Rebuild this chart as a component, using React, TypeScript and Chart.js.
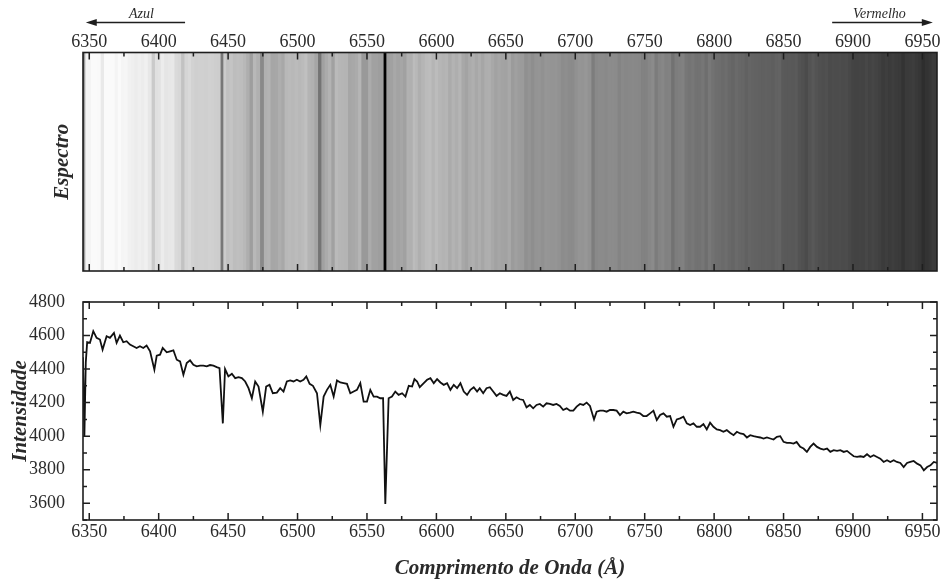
import React, { useEffect, useRef } from 'react';
import { Chart, registerables } from 'chart.js';

Chart.register(...registerables);

// ---------- data ----------
const wavelengths = [
  6345.5, 6346.5, 6347.5, 6348.5, 6350.5, 6352.9, 6355.3, 6357.7, 6359.6, 6362.5,
  6364.9, 6367.8, 6369.7, 6372.1, 6374.5, 6376.9, 6379.3, 6381.7, 6384.1, 6386.5,
  6388.9, 6391.3, 6393.8, 6396.9, 6398.6, 6401.0, 6402.9, 6405.8, 6408.2, 6410.6,
  6413.0, 6415.4, 6417.8, 6420.2, 6422.6, 6425.0, 6427.4, 6429.8, 6432.2, 6434.6,
  6437.0, 6439.4, 6441.8, 6443.8, 6446.2, 6447.8, 6450.2, 6452.7, 6455.1, 6457.5,
  6459.9, 6462.3, 6464.7, 6467.1, 6469.5, 6471.9, 6475.0, 6477.4, 6479.8, 6482.2,
  6485.1, 6487.5, 6489.9, 6492.3, 6494.7, 6497.1, 6499.5, 6501.9, 6504.3, 6506.3,
  6508.7, 6511.1, 6514.0, 6516.4, 6518.8, 6521.2, 6523.6, 6526.0, 6528.4, 6530.8,
  6533.2, 6535.6, 6538.0, 6540.4, 6542.8, 6545.2, 6547.6, 6550.0, 6552.4, 6554.8,
  6557.2, 6559.6, 6561.6, 6563.2, 6565.6, 6568.0, 6570.4, 6572.8, 6575.3, 6577.7,
  6580.1, 6582.5, 6584.2, 6586.1, 6588.0, 6590.9, 6593.3, 6595.7, 6598.1, 6600.5,
  6602.9, 6605.3, 6607.7, 6610.1, 6612.5, 6614.9, 6617.3, 6619.7, 6622.1, 6624.5,
  6626.9, 6629.3, 6631.2, 6633.7, 6636.1, 6638.5, 6640.9, 6643.3, 6645.7, 6648.1,
  6650.5, 6652.9, 6655.3, 6657.7, 6660.1, 6662.5, 6664.9, 6667.3, 6669.7, 6672.1,
  6674.5, 6676.9, 6679.3, 6681.7, 6684.1, 6686.5, 6688.9, 6691.3, 6693.8, 6696.2,
  6698.6, 6701.0, 6703.4, 6705.8, 6708.2, 6710.6, 6713.5, 6715.4, 6717.8, 6720.2,
  6722.6, 6725.0, 6727.4, 6729.8, 6732.2, 6734.6, 6737.0, 6739.4, 6741.8, 6744.2,
  6746.6, 6749.0, 6751.4, 6753.9, 6756.3, 6758.7, 6761.1, 6763.5, 6765.9, 6768.3,
  6770.7, 6773.1, 6775.5, 6777.9, 6780.3, 6782.7, 6785.1, 6787.5, 6789.9, 6792.3,
  6794.7, 6797.1, 6799.5, 6801.9, 6804.3, 6806.7, 6809.1, 6811.4, 6814.0, 6816.4,
  6818.8, 6821.2, 6823.6, 6826.0, 6828.4, 6830.8, 6833.2, 6835.6, 6838.0, 6840.4,
  6842.8, 6845.2, 6847.6, 6850.0, 6852.4, 6854.8, 6857.2, 6859.4, 6862.0, 6864.4,
  6866.8, 6869.2, 6871.6, 6874.1, 6876.5, 6878.9, 6881.3, 6883.7, 6886.1, 6888.5,
  6890.9, 6893.3, 6895.7, 6898.1, 6900.5, 6902.9, 6905.3, 6907.7, 6910.1, 6912.5,
  6914.9, 6917.3, 6919.7, 6922.1, 6924.5, 6926.9, 6929.3, 6931.6, 6934.1, 6936.5,
  6938.9, 6941.3, 6943.7, 6946.2, 6948.6, 6951.0, 6953.4, 6955.8, 6958.2, 6960.6,
];

const intensities = [
  4470, 4000, 4440, 4560, 4556, 4626, 4586, 4576, 4516, 4596,
  4586, 4616, 4556, 4600, 4560, 4566, 4546, 4536, 4526, 4536,
  4526, 4540, 4506, 4396, 4480, 4486, 4526, 4500, 4506, 4512,
  4456, 4446, 4366, 4436, 4452, 4426, 4416, 4420, 4420, 4416,
  4424, 4420, 4412, 4406, 4076, 4400, 4356, 4372, 4346, 4352,
  4346, 4326, 4286, 4226, 4326, 4296, 4146, 4296, 4306, 4256,
  4260, 4286, 4266, 4326, 4332, 4326, 4336, 4326, 4336, 4356,
  4312, 4300, 4256, 4066, 4236, 4276, 4306, 4236, 4332, 4320,
  4316, 4312, 4256, 4266, 4276, 4316, 4206, 4206, 4276, 4236,
  4236, 4226, 4226, 3596, 4226, 4236, 4266, 4246, 4256, 4236,
  4300, 4296, 4340, 4326, 4292, 4316, 4336, 4346, 4316, 4340,
  4320, 4306, 4316, 4276, 4306, 4286, 4316, 4266, 4246, 4276,
  4292, 4266, 4286, 4256, 4286, 4292, 4266, 4240, 4256, 4246,
  4240, 4266, 4216, 4232, 4220, 4216, 4172, 4186, 4166, 4186,
  4192, 4176, 4196, 4192, 4186, 4192, 4180, 4156, 4166, 4152,
  4152, 4176, 4192, 4186, 4200, 4180, 4100, 4146, 4152, 4152,
  4146, 4156, 4156, 4152, 4126, 4146, 4136, 4140, 4146, 4140,
  4136, 4120, 4120, 4136, 4152, 4096, 4126, 4136, 4116, 4120,
  4056, 4100, 4106, 4116, 4076, 4066, 4076, 4056, 4056, 4072,
  4040, 4080, 4056, 4040, 4036, 4026, 4036, 4020, 4006, 4026,
  4016, 4012, 3992, 4006, 4000, 3996, 3992, 3986, 3992, 3986,
  3980, 3996, 4000, 3966, 3960, 3960, 3956, 3966, 3936, 3926,
  3906, 3936, 3956, 3936, 3926, 3920, 3926, 3906, 3916, 3912,
  3916, 3906, 3912, 3896, 3880, 3876, 3880, 3876, 3892, 3876,
  3886, 3876, 3866, 3846, 3856, 3846, 3856, 3846, 3840, 3816,
  3840, 3846, 3852, 3836, 3826, 3796, 3816, 3826, 3846, 3840,
];

const xTickValues = [6350, 6400, 6450, 6500, 6550, 6600, 6650, 6700, 6750, 6800, 6850, 6900, 6950];
const yTickValues = [3600, 3800, 4000, 4200, 4400, 4600, 4800];

const X_MIN = 6345.5;
const X_MAX = 6960.5;
const Y_MIN = 3500;
const Y_MAX = 4800;

const AZUL_TAIL = 6419;
const AZUL_HEAD = 6347.5;
const AZUL_TEXT = 6387.5;
const VERM_TAIL = 6885;
const VERM_HEAD = 6957.5;
const VERM_TEXT = 6919;

// ---------- style ----------
const SERIF = '"Liberation Serif", "Times New Roman", serif';
const TEXT = '#2a2a2a';
const INK = '#1e1e1e';

// spectrum grey level as a linear colour map of intensity
function greyFor(v: number) {
  const g = Math.max(0, Math.min(250, Math.round(55 + (v - 3830) * 0.26)));
  return `rgb(${g},${g},${g})`;
}

const frameTicks = {
  id: 'frameTicks',
  afterDatasetsDraw(chart: any, _a: any, opts: any) {
    const { ctx, chartArea } = chart;
    const { left, right, top, bottom } = chartArea;
    ctx.save();
    ctx.strokeStyle = INK;
    ctx.lineWidth = 1.5;
    const xs = chart.scales.x;
    const xMinor = 25;
    for (let v = Math.ceil(xs.min / xMinor) * xMinor; v <= xs.max; v += xMinor) {
      const px = xs.getPixelForValue(v);
      const len = v % 50 === 0 ? 7 : 4;
      ctx.beginPath();
      ctx.moveTo(px, top);
      ctx.lineTo(px, top + len);
      ctx.moveTo(px, bottom);
      ctx.lineTo(px, bottom - len);
      ctx.stroke();
    }
    if (opts && opts.yTicks) {
      const ys = chart.scales.y;
      const yMinor = 100;
      for (let v = Math.ceil(ys.min / yMinor) * yMinor; v <= ys.max; v += yMinor) {
        const py = ys.getPixelForValue(v);
        const len = v % 200 === 0 ? 7 : 4;
        ctx.beginPath();
        ctx.moveTo(left, py);
        ctx.lineTo(left + len, py);
        ctx.moveTo(right, py);
        ctx.lineTo(right - len, py);
        ctx.stroke();
      }
    }
    ctx.lineWidth = 1.6;
    ctx.strokeRect(left, top, right - left, bottom - top);
    ctx.restore();
  },
};

function drawArrow(ctx: CanvasRenderingContext2D, x0: number, x1: number, y: number) {
  const dir = x1 > x0 ? 1 : -1;
  ctx.beginPath();
  ctx.moveTo(x0, y);
  ctx.lineTo(x1 - dir * 8, y);
  ctx.stroke();
  ctx.beginPath();
  ctx.moveTo(x1, y);
  ctx.lineTo(x1 - dir * 11, y - 3.5);
  ctx.lineTo(x1 - dir * 11, y + 3.5);
  ctx.closePath();
  ctx.fill();
}

const arrows = {
  id: 'arrows',
  afterDraw(chart: any) {
    const { ctx } = chart;
    const xs = chart.scales.x;
    ctx.save();
    ctx.strokeStyle = INK;
    ctx.fillStyle = INK;
    ctx.lineWidth = 1.3;
    drawArrow(ctx, xs.getPixelForValue(AZUL_TAIL), xs.getPixelForValue(AZUL_HEAD), 22.5);
    drawArrow(ctx, xs.getPixelForValue(VERM_TAIL), xs.getPixelForValue(VERM_HEAD), 22.5);
    ctx.font = `italic 14px ${SERIF}`;
    ctx.fillStyle = TEXT;
    ctx.textAlign = 'center';
    ctx.textBaseline = 'middle';
    ctx.fillText('Azul', xs.getPixelForValue(AZUL_TEXT), 14);
    ctx.fillText('Vermelho', xs.getPixelForValue(VERM_TEXT), 14);
    ctx.restore();
  },
};

export default function App() {
  const topRef = useRef<HTMLCanvasElement>(null);
  const botRef = useRef<HTMLCanvasElement>(null);

  useEffect(() => {
    // ----- spectrum strip -----
    const bounds = wavelengths.map((w, i) => {
      const lo = i === 0 ? X_MIN : (wavelengths[i - 1] + w) / 2;
      const hi = i === wavelengths.length - 1 ? X_MAX : (w + wavelengths[i + 1]) / 2;
      return [lo, hi];
    });
    const top = new Chart(topRef.current!, {
      type: 'bar',
      data: {
        labels: ['S'],
        datasets: [
          {
            data: bounds.map((b) => ({ y: 'S', x: b })) as any,
            backgroundColor: intensities.map(greyFor),
            borderWidth: 0,
            barPercentage: 1,
            categoryPercentage: 1,
            grouped: false,
            inflateAmount: 0.6,
          } as any,
        ],
      },
      options: {
        indexAxis: 'y',
        responsive: false,
        animation: false,
        layout: { padding: { left: 0, right: 4, top: 0, bottom: 9 } },
        plugins: { legend: { display: false }, tooltip: { enabled: false } },
        scales: {
          x: {
            type: 'linear',
            position: 'top',
            min: X_MIN,
            max: X_MAX,
            grid: { display: false },
            border: { display: false },
            afterBuildTicks: (s: any) => {
              s.ticks = xTickValues.map((v) => ({ value: v }));
            },
            afterFit: (s: any) => {
              s.height = 52.5;
            },
            ticks: {
              autoSkip: false,
              maxRotation: 0,
              padding: -9,
              color: TEXT,
              font: { family: SERIF, size: 18 },
              callback: (v: any) => String(v),
            },
          },
          y: {
            type: 'category',
            grid: { display: false },
            border: { display: false },
            ticks: { display: false },
            afterFit: (s: any) => {
              s.width = 83;
            },
            title: {
              display: true,
              text: 'Espectro',
              color: TEXT,
              font: { family: SERIF, size: 21, style: 'italic', weight: 'bold' },
              padding: { top: 50, bottom: 0 },
            },
          },
        },
      },
      plugins: [frameTicks, arrows],
    } as any);

    // ----- intensity profile -----
    const bot = new Chart(botRef.current!, {
      type: 'line',
      data: {
        datasets: [
          {
            data: wavelengths.map((w, i) => ({ x: w, y: intensities[i] })),
            borderColor: '#111',
            borderWidth: 1.8,
            pointRadius: 0,
            tension: 0,
            fill: false,
          },
        ],
      },
      options: {
        responsive: false,
        animation: false,
        layout: { padding: { left: 0, right: 4, top: 22, bottom: 0 } },
        plugins: { legend: { display: false }, tooltip: { enabled: false }, frameTicks: { yTicks: true } } as any,
        scales: {
          x: {
            type: 'linear',
            position: 'bottom',
            min: X_MIN,
            max: X_MAX,
            grid: { display: false },
            border: { display: false },
            afterBuildTicks: (s: any) => {
              s.ticks = xTickValues.map((v) => ({ value: v }));
            },
            afterFit: (s: any) => {
              s.height = 62;
            },
            ticks: {
              autoSkip: false,
              maxRotation: 0,
              padding: -7,
              color: TEXT,
              font: { family: SERIF, size: 18 },
              callback: (v: any) => String(v),
            },
            title: {
              display: true,
              text: 'Comprimento de Onda (Å)',
              color: TEXT,
              font: { family: SERIF, size: 21, style: 'italic', weight: 'bold' },
              padding: { top: 0, bottom: 1 },
            },
          },
          y: {
            type: 'linear',
            min: Y_MIN,
            max: Y_MAX,
            grid: { display: false },
            border: { display: false },
            afterBuildTicks: (s: any) => {
              s.ticks = yTickValues.map((v) => ({ value: v }));
            },
            afterFit: (s: any) => {
              s.width = 83;
            },
            ticks: {
              padding: 10,
              color: TEXT,
              font: { family: SERIF, size: 18 },
              callback: (v: any) => String(v),
            },
            title: {
              display: true,
              text: 'Intensidade',
              color: TEXT,
              font: { family: SERIF, size: 21, style: 'italic', weight: 'bold' },
              padding: { top: 8, bottom: 0 },
            },
          },
        },
      },
      plugins: [frameTicks],
    } as any);

    return () => {
      top.destroy();
      bot.destroy();
    };
  }, []);

  return (
    <div style={{ position: 'fixed', left: 0, top: 0, width: 941, height: 582, background: '#fff' }}>
      <canvas ref={topRef} width={941} height={280} style={{ position: 'absolute', left: 0, top: 0 }} />
      <canvas ref={botRef} width={941} height={302} style={{ position: 'absolute', left: 0, top: 280 }} />
    </div>
  );
}
